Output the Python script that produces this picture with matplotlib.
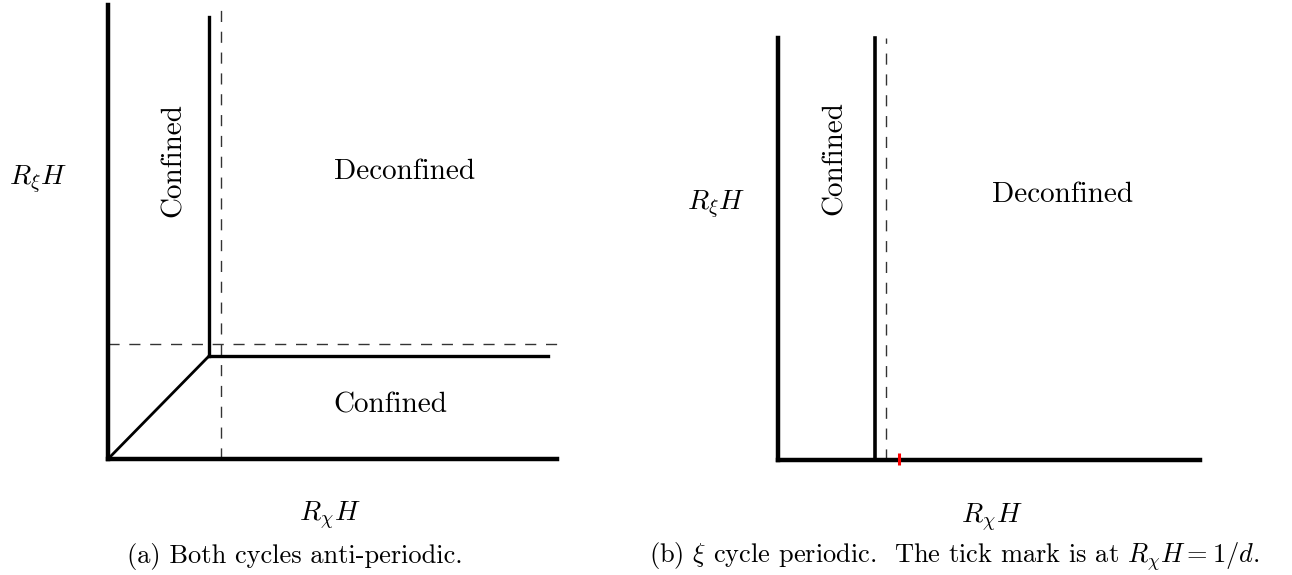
import matplotlib
matplotlib.use("Agg")
import matplotlib.pyplot as plt

plt.rcParams["mathtext.fontset"] = "cm"
plt.rcParams["font.family"] = "cmr10"
plt.rcParams["axes.unicode_minus"] = False

# schematic phase boundaries (units of R H, origin at corner of each panel)
# panel (a): both cycles anti-periodic
a_axis_x = [0.0, 4.49]
a_axis_y = [0.0, 4.54]
a_diag_x = [0.0, 1.01]
a_diag_y = [0.0, 1.03]
a_vert_x = 1.01
a_vert_y = [1.03, 4.42]
a_horz_y = 1.03
a_horz_x = [1.01, 4.40]
a_dash_x = 1.13
a_dash_x_range = [0.0, 4.55]
a_dash_y = 1.15
a_dash_y_range = [0.0, 4.49]

# panel (b): xi cycle periodic
b_axis_x = [0.0, 4.22]
b_axis_y = [0.0, 4.22]
b_vert_x = 0.97
b_vert_y = [0.0, 4.22]
b_dash_x = 1.08
b_dash_range = [0.0, 4.22]
b_tick_x = 1.21          # R_chi H = 1/d
b_tick_y = [-0.05, 0.07]

DASH = dict(color="#333333", lw=1.0, dashes=(8, 7))
LABEL = 21
CAPTION = 19

fig = plt.figure(figsize=(12.92, 5.75), dpi=100)
ax1 = fig.add_axes([0, 0, 0.5, 1])
ax2 = fig.add_axes([0.5, 0, 0.5, 1])
ax1.set_xlim(-1.08, 5.38)
ax1.set_ylim(-1.16, 4.59)
ax2.set_xlim(-1.32, 5.14)
ax2.set_ylim(-1.15, 4.60)
for ax in (ax1, ax2):
    ax.axis("off")

# --- (a) ---
ax1.plot([a_dash_x, a_dash_x], a_dash_x_range, **DASH)
ax1.plot(a_dash_y_range, [a_dash_y, a_dash_y], **DASH)
ax1.plot(a_axis_x, [0, 0], color="black", lw=3.2)
ax1.plot([0, 0], a_axis_y, color="black", lw=3.2)
ax1.plot(a_diag_x, a_diag_y, color="black", lw=2.0)
ax1.plot([a_vert_x, a_vert_x], a_vert_y, color="black", lw=2.4)
ax1.plot(a_horz_x, [a_horz_y, a_horz_y], color="black", lw=2.4)

ax1.text(-0.70, 2.79, r"$R_\xi H$", fontsize=20, ha="center", va="center")
ax1.text(0.66, 2.99, "Confined", fontsize=LABEL, rotation=90, ha="center", va="center")
ax1.text(2.97, 2.87, "Deconfined", fontsize=LABEL, ha="center", va="center")
ax1.text(2.82, 0.54, "Confined", fontsize=LABEL, ha="center", va="center")
ax1.text(2.22, -0.57, r"$R_\chi H$", fontsize=20, ha="center", va="center")
ax1.text(1.87, -0.98, "(a) Both cycles anti-periodic.", fontsize=CAPTION,
         ha="center", va="center")

# --- (b) ---
ax2.plot([b_dash_x, b_dash_x], b_dash_range, **DASH)
ax2.plot(b_axis_x, [0, 0], color="black", lw=3.2)
ax2.plot([0, 0], b_axis_y, color="black", lw=3.2)
ax2.plot([b_vert_x, b_vert_x], b_vert_y, color="black", lw=2.6)
ax2.plot([b_tick_x, b_tick_x], b_tick_y, color="red", lw=2.2, solid_capstyle="butt")

ax2.text(-0.62, 2.55, r"$R_\xi H$", fontsize=20, ha="center", va="center")
ax2.text(0.57, 3.02, "Confined", fontsize=LABEL, rotation=90, ha="center", va="center")
ax2.text(2.85, 2.65, "Deconfined", fontsize=LABEL, ha="center", va="center")
ax2.text(2.14, -0.58, r"$R_\chi H$", fontsize=20, ha="center", va="center")
ax2.text(1.76, -0.97,
         r"(b) $\xi$ cycle periodic.  The tick mark is at $R_\chi H = 1/d$.",
         fontsize=CAPTION, ha="center", va="center")

fig.savefig("out.png", dpi=100, facecolor="white")
